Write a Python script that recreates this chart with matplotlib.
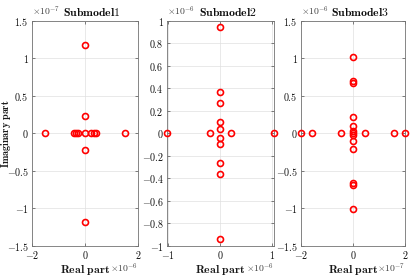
import matplotlib
matplotlib.use("Agg")
import matplotlib.pyplot as plt
from matplotlib.ticker import FuncFormatter

plt.rcParams.update({
    "mathtext.fontset": "cm",
    "font.size": 7.5,
})

# --------------------------------
# DATA (poles, real units)
# --------------------------------
titles = ["Submodel1", "Submodel2", "Submodel3"]

sm1_real = [-1.5e-6, -0.41e-6, -0.33e-6, -0.25e-6, 0.0, 0.25e-6, 0.33e-6, 0.41e-6, 1.5e-6,
            0.0, 0.0, 0.0, 0.0]
sm1_imag = [0.0, 0.0, 0.0, 0.0, 0.0, 0.0, 0.0, 0.0, 0.0,
            1.18e-7, 0.225e-7, -0.225e-7, -1.18e-7]

sm2_real = [-1.03e-6, -0.2e-6, 0.2e-6, 1.03e-6,
            0.0, 0.0, 0.0, 0.0, 0.0, 0.0, 0.0, 0.0, 0.0, 0.0]
sm2_imag = [0.0, 0.0, 0.0, 0.0,
            0.945e-6, 0.365e-6, 0.267e-6, 0.095e-6, 0.04e-6,
            -0.04e-6, -0.095e-6, -0.267e-6, -0.365e-6, -0.945e-6]

sm3_real = [-2.0e-7, -1.55e-7, -0.47e-7, 0.0, 0.46e-7, 1.56e-7, 2.0e-7,
            0.0, 0.0, 0.0, 0.0, 0.0, 0.0, 0.0, 0.0, 0.0, 0.0, 0.0, 0.0]
sm3_imag = [0.0, 0.0, 0.0, 0.0, 0.0, 0.0, 0.0,
            1.01e-6, 0.69e-6, 0.67e-6, 0.21e-6, 0.10e-6, 0.03e-6,
            -0.03e-6, -0.10e-6, -0.21e-6, -0.67e-6, -0.69e-6, -1.01e-6]

# tick values (in units of the exponent) and limits per panel
x_ticks = [[-2, 0, 2], [-1, 0, 1], [-2, 0, 2]]
y_ticks = [[-1.5, -1, -0.5, 0, 0.5, 1, 1.5],
           [-1, -0.8, -0.6, -0.4, -0.2, 0, 0.2, 0.4, 0.6, 0.8, 1],
           [-1.5, -1, -0.5, 0, 0.5, 1, 1.5]]
x_exp = [-6, -6, -7]
y_exp = [-7, -6, -6]
x_lims = [(-2, 2), (-1.03, 1.03), (-2, 2)]
y_lims = [(-1.5, 1.5), (-1, 1), (-1.5, 1.5)]

reals = [sm1_real, sm2_real, sm3_real]
imags = [sm1_imag, sm2_imag, sm3_imag]

# --------------------------------
# LAYOUT
# --------------------------------
fig = plt.figure(figsize=(4.15, 2.76), dpi=100)
W, H = 415, 276
boxes = [(31.7, 138.0), (166.7, 274.0), (300.7, 405.0)]
top_px, bot_px = 20.7, 245.6


def bold_fmt(exp):
    def f(v, pos):
        s = f"{v / 10**exp:g}"
        return r"$\mathbf{" + s + "}$"
    return FuncFormatter(f)


for i in range(3):
    x0, x1 = boxes[i]
    ax = fig.add_axes([x0 / W, 1 - bot_px / H, (x1 - x0) / W, (bot_px - top_px) / H])

    ax.plot(reals[i], imags[i], "o", mfc="none", mec="red", ms=4.3, mew=1.2,
            clip_on=False, zorder=5)

    xs = 10.0 ** x_exp[i]
    ys = 10.0 ** y_exp[i]
    ax.set_xlim(x_lims[i][0] * xs, x_lims[i][1] * xs)
    ax.set_ylim(y_lims[i][0] * ys, y_lims[i][1] * ys)
    ax.set_xticks([t * xs for t in x_ticks[i]])
    ax.set_yticks([t * ys for t in y_ticks[i]])
    ax.xaxis.set_major_formatter(bold_fmt(x_exp[i]))
    ax.yaxis.set_major_formatter(bold_fmt(y_exp[i]))

    ax.grid(True, color="0.88", lw=0.5)
    ax.set_axisbelow(True)
    ax.tick_params(direction="in", length=2.5, width=0.5, color="0.3",
                   top=True, right=True, labelsize=7.2, pad=2.2,
                   labelcolor="0.05")
    for sp in ax.spines.values():
        sp.set_color("0.45")
        sp.set_linewidth(0.6)

    ax.set_title(r"$\mathbf{" + titles[i] + "}$", fontsize=8.5, x=0.57, pad=3.5,
                 color="0.05")
    ax.text(0.0, 1.012, r"$\times10^{" + str(y_exp[i]) + "}$", transform=ax.transAxes,
            ha="left", va="bottom", fontsize=7, color="0.25")

    ax.set_xlabel(r"$\mathbf{Real\ part}$", fontsize=8.5, labelpad=1.5, color="0.1")
    ax.text(1.0, -0.07, r"$\times10^{" + str(x_exp[i]) + "}$", transform=ax.transAxes,
            ha="right", va="top", fontsize=7, color="0.25")

fig.text(5.7 / W, 1 - 134 / H, r"$\mathbf{Imaginary\ part}$", rotation=90,
         ha="center", va="center", fontsize=7.3, color="0.1")

fig.savefig("out.png", dpi=100)
